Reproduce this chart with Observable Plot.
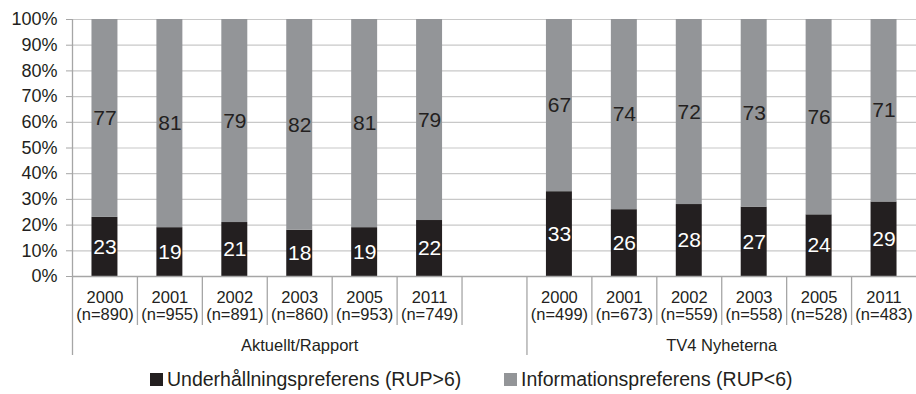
<!DOCTYPE html>
<html>
<head>
<meta charset="utf-8">
<script src="https://cdn.jsdelivr.net/npm/d3@7"></script>
<script src="https://cdn.jsdelivr.net/npm/@observablehq/plot@0.6"></script>
<style>
  html, body { margin: 0; padding: 0; background: #fff; }
  body { width: 916px; height: 394px; overflow: hidden; font-family: "Liberation Sans", Arial, sans-serif; color: #231f20; }
  #legend { position: relative; height: 30px; }
  .item { position: absolute; top: 0; display: flex; align-items: center; height: 30px; font-size: 19.5px; white-space: nowrap; }
  .sw { width: 13px; height: 13px; margin-right: 4px; }
</style>
</head>
<body>
<div id="chart"></div>
<div id="legend"></div>
<script>
// ---- data ----
const groups = ["Aktuellt/Rapport", "TV4 Nyheterna"];
const years = ["2000", "2001", "2002", "2003", "2005", "2011"];
const nAktuellt = [890, 955, 891, 860, 953, 749];
const nTV4 = [499, 673, 559, 558, 528, 483];
const underAktuellt = [23, 19, 21, 18, 19, 22];
const infoAktuellt = [77, 81, 79, 82, 81, 79];
const underTV4 = [33, 26, 28, 27, 24, 29];
const infoTV4 = [67, 74, 72, 73, 76, 71];
const seriesNames = ["Underhållningspreferens (RUP>6)", "Informationspreferens (RUP<6)"];
const seriesColors = ["#231f20", "#939598"];
const yTicks = [0, 10, 20, 30, 40, 50, 60, 70, 80, 90, 100];

// ---- build table: slot index (gap slot between the two groups) ----
const nByGroup = [nAktuellt, nTV4];
const underByGroup = [underAktuellt, underTV4];
const infoByGroup = [infoAktuellt, infoTV4];
const slotsPerGroup = years.length + 1;
const rows = [];
groups.forEach((g, gi) => {
  years.forEach((yr, j) => {
    const u = underByGroup[gi][j], inf = infoByGroup[gi][j];
    const tot = u + inf;
    rows.push({
      group: g, year: yr, n: nByGroup[gi][j],
      under: u, info: inf,
      uPct: u / tot * 100, // 100% stacked
      i: gi * slotsPerGroup + j
    });
  });
});
const totalSlots = groups.length * slotsPerGroup - 1; // 13
const groupSpans = groups.map((g, gi) => ({
  name: g,
  start: gi * slotsPerGroup,
  end: gi === groups.length - 1 ? totalSlots : (gi + 1) * slotsPerGroup
}));
// separators: short ones between categories inside groups, long at group starts
const shortSeps = [];
const longSeps = groupSpans.map(s => s.start);
for (let k = 1; k < totalSlots; k++) if (!longSeps.includes(k)) shortSeps.push(k);

const axisGray = "#a6a6a6";
const gridGray = "#c8c8c8";
const ink = "#231f20";
const font = "Liberation Sans, Arial, sans-serif";

const chart = Plot.plot({
  width: 916,
  height: 364,
  marginTop: 19,
  marginBottom: 88,
  marginLeft: 72,
  marginRight: 0,
  style: { fontFamily: font, color: ink, background: "#fff", overflow: "visible" },
  x: { type: "linear", domain: [0, totalSlots], axis: null },
  y: { domain: [0, 100], axis: null },
  marks: [
    Plot.ruleY(yTicks.filter(d => d > 0), { stroke: gridGray, strokeWidth: 1.2 }),
    Plot.rectY(rows, { x1: d => d.i + 0.3, x2: d => d.i + 0.7, y1: 0, y2: "uPct", fill: seriesColors[0] }),
    Plot.rectY(rows, { x1: d => d.i + 0.3, x2: d => d.i + 0.7, y1: "uPct", y2: 100, fill: seriesColors[1] }),
    Plot.ruleY([0], { stroke: axisGray, strokeWidth: 1.3 }),
    // y axis
    Plot.axisY({ ticks: yTicks, tickFormat: d => d + "%", tickSize: 6, tickPadding: 9, stroke: axisGray, fontSize: 18, fill: ink, label: null }),
    Plot.ruleX([0], { stroke: axisGray, strokeWidth: 1.3, insetBottom: -79 }),
    // category separators
    Plot.ruleX(shortSeps, { x: d => d, y1: 0, y2: 0, insetBottom: -49, stroke: axisGray, strokeWidth: 1.3 }),
    Plot.ruleX(longSeps.filter(d => d > 0), { x: d => d, y1: 0, y2: 0, insetBottom: -79, stroke: axisGray, strokeWidth: 1.3 }),
    // value labels
    Plot.text(rows, { x: d => d.i + 0.5, y: d => d.uPct / 2, text: d => String(d.under), fill: "#fff", fontSize: 21 }),
    Plot.text(rows, { x: d => d.i + 0.5, y: d => (d.uPct + 100) / 2, text: d => String(d.info), fill: ink, fontSize: 21 }),
    // category labels
    Plot.text(rows, { x: d => d.i + 0.5, y: 0, dy: 21, text: "year", fill: ink, fontSize: 16.5 }),
    Plot.text(rows, { x: d => d.i + 0.5, y: 0, dy: 38, text: d => `(n=${d.n})`, fill: ink, fontSize: 16.5 }),
    // group labels
    Plot.text(groupSpans, { x: d => (d.start + d.end) / 2, y: 0, dy: 69, text: "name", fill: ink, fontSize: 16.5 })
  ]
});
document.getElementById("chart").appendChild(chart);

// legend
const legend = document.getElementById("legend");
const legendLeft = [150, 504];
seriesNames.forEach((name, k) => {
  const item = document.createElement("div");
  item.className = "item";
  item.style.left = legendLeft[k] + "px";
  const sw = document.createElement("span");
  sw.className = "sw";
  sw.style.background = seriesColors[k];
  const tx = document.createElement("span");
  tx.textContent = name;
  item.appendChild(sw);
  item.appendChild(tx);
  legend.appendChild(item);
});
</script>
</body>
</html>
